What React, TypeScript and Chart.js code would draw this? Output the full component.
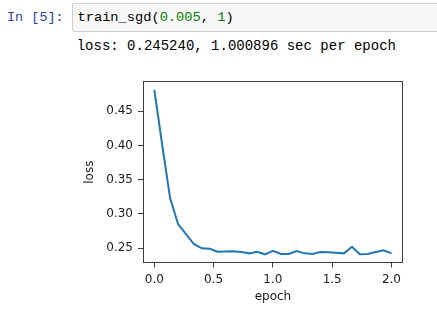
import React, { useEffect, useRef } from "react";
import { Chart, registerables } from "chart.js";

Chart.register(...registerables);

// epochs at which the loss was recorded
const epochs = [
  0, 0.067, 0.133, 0.2, 0.267, 0.333, 0.4, 0.467, 0.533, 0.6, 0.667,
  0.733, 0.8, 0.867, 0.933, 1.0, 1.067, 1.133, 1.2, 1.267, 1.333,
  1.4, 1.467, 1.533, 1.6, 1.667, 1.733, 1.8, 1.867, 1.933, 2.0,
];
// loss values
const losses = [
  0.4812, 0.4, 0.3227, 0.2851, 0.2705, 0.2559, 0.2496, 0.249, 0.2446, 0.245, 0.2454,
  0.2441, 0.2422, 0.2446, 0.2408, 0.246, 0.2412, 0.2412, 0.2456, 0.2422, 0.2412,
  0.2441, 0.2437, 0.2431, 0.2422, 0.2519, 0.2408, 0.2412, 0.2441, 0.2466, 0.2422,
];
const xTicks = [0, 0.5, 1.0, 1.5, 2.0];
const yTicks = [0.25, 0.3, 0.35, 0.4, 0.45];
const xLimits = [-0.1, 2.1];
const yLimits = [0.2281, 0.4939];

const TICK_FONT = { family: "'DejaVu Sans', sans-serif", size: 12 };
const INK = "#1a1a1a";
const SPINE = "#3a3a3a";

const spinePlugin = {
  id: "spines",
  afterDraw(chart: any) {
    const { ctx, chartArea } = chart;
    ctx.save();
    ctx.strokeStyle = SPINE;
    ctx.lineWidth = 1;
    const l = Math.round(chartArea.left) + 0.5;
    const t = Math.round(chartArea.top) + 0.5;
    const r = Math.round(chartArea.right) - 0.5;
    const b = Math.round(chartArea.bottom) - 0.5;
    ctx.strokeRect(l, t, r - l, b - t);
    ctx.restore();
  },
};

function LossChart() {
  const ref = useRef<HTMLCanvasElement | null>(null);
  useEffect(() => {
    if (!ref.current) return;
    const chart = new Chart(ref.current, {
      type: "line",
      data: {
        datasets: [
          {
            data: epochs.map((e, i) => ({ x: e, y: losses[i] })),
            borderColor: "#1f77b4",
            borderWidth: 2,
            pointRadius: 0,
            tension: 0,
            fill: false,
          },
        ],
      },
      options: {
        animation: false,
        responsive: false,
        devicePixelRatio: 1,
        layout: { padding: { left: 70, top: 19.3, right: 33.7, bottom: 0 } },
        plugins: { legend: { display: false }, tooltip: { enabled: false } },
        scales: {
          x: {
            type: "linear",
            min: xLimits[0],
            max: xLimits[1],
            afterBuildTicks: (s: any) => {
              s.ticks = xTicks.map((v) => ({ value: v }));
            },
            afterFit: (s: any) => {
              s.height = 56;
              s.paddingLeft = 0;
              s.paddingRight = 0;
            },
            grid: {
              drawOnChartArea: false,
              drawTicks: true,
              tickLength: 4.5,
              tickColor: SPINE,
              lineWidth: 1,
            },
            border: { display: false },
            ticks: {
              font: TICK_FONT,
              color: INK,
              padding: 5,
              maxRotation: 0,
              autoSkip: false,
              callback: (v: any) => Number(v).toFixed(1),
            },
            title: {
              display: true,
              text: "epoch",
              font: TICK_FONT,
              color: INK,
              padding: { top: 0, bottom: 15 },
            },
          },
          y: {
            type: "linear",
            min: yLimits[0],
            max: yLimits[1],
            afterBuildTicks: (s: any) => {
              s.ticks = yTicks.map((v) => ({ value: v }));
            },
            afterFit: (s: any) => {
              s.width = 72.5;
              s.paddingTop = 0;
              s.paddingBottom = 0;
            },
            grid: {
              drawOnChartArea: false,
              drawTicks: true,
              tickLength: 4.5,
              tickColor: SPINE,
              lineWidth: 1,
            },
            border: { display: false },
            ticks: {
              font: TICK_FONT,
              color: INK,
              padding: 5,
              autoSkip: false,
              callback: (v: any) => Number(v).toFixed(2),
            },
            title: {
              display: true,
              text: "loss",
              font: TICK_FONT,
              color: INK,
              padding: { top: 12.6, bottom: 0 },
            },
          },
        },
      },
      plugins: [spinePlugin],
    });
    return () => chart.destroy();
  }, []);
  return (
    <canvas
      ref={ref}
      width={437}
      height={257}
      style={{ position: "absolute", left: 0, top: 62, width: 437, height: 257 }}
    />
  );
}

export default function App() {
  const mono = "'Liberation Mono', 'Courier New', monospace";
  return (
    <div
      style={{
        position: "absolute",
        left: 0,
        top: 0,
        width: 437,
        height: 319,
        background: "#fff",
        overflow: "hidden",
      }}
    >
      <div
        style={{
          position: "absolute",
          left: 7,
          top: 10,
          fontFamily: mono,
          fontSize: 13.5,
          lineHeight: "15px",
          color: "#303F9F",
          whiteSpace: "pre",
        }}
      >
        In [5]:
      </div>
      <div
        style={{
          position: "absolute",
          left: 71.5,
          top: 3,
          width: 380,
          height: 27,
          background: "#f7f7f7",
          border: "1px solid #cfcfcf",
          borderRadius: 2,
        }}
      />
      <div
        style={{
          position: "absolute",
          left: 77.5,
          top: 10,
          fontFamily: mono,
          fontSize: 13.7,
          lineHeight: "15px",
          color: "#000",
          whiteSpace: "pre",
        }}
      >
        train_sgd(<span style={{ color: "#008000" }}>0.005</span>,{" "}
        <span style={{ color: "#008000" }}>1</span>)
      </div>
      <div
        style={{
          position: "absolute",
          left: 76.7,
          top: 39,
          fontFamily: mono,
          fontSize: 14,
          lineHeight: "15px",
          color: "#000",
          whiteSpace: "pre",
        }}
      >
        loss: 0.245240, 1.000896 sec per epoch
      </div>
      <LossChart />
    </div>
  );
}
